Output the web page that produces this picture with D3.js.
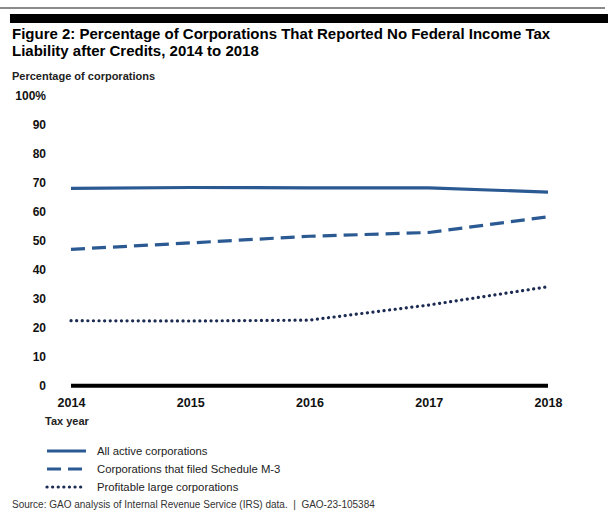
<!DOCTYPE html>
<html><head><meta charset="utf-8">
<script src="https://cdn.jsdelivr.net/npm/d3@7"></script>
<style>body{margin:0;background:#fff;} svg{display:block;font-family:"Liberation Sans",Arial,sans-serif;}</style>
</head><body>
<svg id="c" width="615" height="521"></svg>
<script>
const years = [2014, 2015, 2016, 2017, 2018];
const allActive = [68.0, 68.3, 68.2, 68.2, 66.7];
const scheduleM3 = [47.0, 49.2, 51.5, 52.8, 58.2];
const profitableLarge = [22.4, 22.3, 22.6, 27.8, 34.1];
const yTicks = [0, 10, 20, 30, 40, 50, 60, 70, 80, 90, 100];
const seriesNames = ["All active corporations", "Corporations that filed Schedule M-3", "Profitable large corporations"];

const series = [
  {name: seriesNames[0], values: allActive, color: "#2b5a93", dash: null, round: false},
  {name: seriesNames[1], values: scheduleM3, color: "#2b5a93", dash: "14,7", round: false},
  {name: seriesNames[2], values: profitableLarge, color: "#1c2b52", dash: "0.1,5.5", round: true}
];

const svg = d3.select("#c");
// top rules
svg.append("rect").attr("x",0).attr("y",7).attr("width",605).attr("height",2).attr("fill","#8a8a8a");
svg.append("rect").attr("x",10).attr("y",14).attr("width",598).attr("height",9).attr("fill","#000");

const title = svg.append("text").attr("font-size",15).attr("font-weight","bold").attr("fill","#000");
title.append("tspan").attr("x",12).attr("y",39).text("Figure 2: Percentage of Corporations That Reported No Federal Income Tax");
title.append("tspan").attr("x",12).attr("y",56).text("Liability after Credits, 2014 to 2018");

svg.append("text").attr("x",12).attr("y",80).attr("font-size",11).attr("font-weight","bold").attr("fill","#222").text("Percentage of corporations");

const x = d3.scalePoint().domain(years).range([71, 548]);
const y = d3.scaleLinear().domain([0, 100]).range([385.7, 95.5]);

// y tick labels
const yAxis = d3.axisLeft(y).tickValues(yTicks).tickSize(0).tickPadding(0)
  .tickFormat(d => d === 100 ? "100%" : d);
const gy = svg.append("g").attr("transform","translate(46,0)").call(yAxis);
gy.select(".domain").remove();
gy.selectAll("text").attr("font-size",12).attr("font-weight","bold").attr("fill","#111")
  .attr("font-family","Liberation Sans, Arial, sans-serif");

// x axis
const xAxis = d3.axisBottom(x).tickSize(0).tickPadding(0);
const gx = svg.append("g").attr("transform","translate(0,"+y(0)+")").call(xAxis);
gx.select(".domain").attr("stroke","#000").attr("stroke-width",4).attr("d","M71,0H548");
gx.selectAll("text").attr("font-size",12.5).attr("font-weight","bold").attr("fill","#111")
  .attr("dy",0).attr("y",21).attr("font-family","Liberation Sans, Arial, sans-serif");

svg.append("text").attr("x",45).attr("y",425).attr("font-size",11).attr("font-weight","bold").attr("fill","#222").text("Tax year");

// lines
const line = d3.line().x((d,i)=>x(years[i])).y(d=>y(d)).curve(d3.curveLinear);
series.forEach(s => {
  svg.append("path").attr("d", line(s.values)).attr("fill","none")
    .attr("stroke", s.color).attr("stroke-width",3.2)
    .attr("stroke-linecap", s.round ? "round" : "butt")
    .attr("stroke-linejoin","round")
    .attr("stroke-dasharray", s.dash);
});

// legend
const lg = svg.append("g");
series.forEach((s,i) => {
  const ly = 451 + i*18;
  lg.append("line").attr("x1",47).attr("x2",86).attr("y1",ly).attr("y2",ly)
    .attr("stroke", s.color).attr("stroke-width",3.2)
    .attr("stroke-linecap", s.round ? "round" : "butt")
    .attr("stroke-dasharray", s.dash);
  lg.append("text").attr("x",97).attr("y",ly+4).attr("font-size",11.3).attr("fill","#222").text(s.name);
});

svg.append("text").attr("x",12).attr("y",508).attr("font-size",10).attr("fill","#333")
  .attr("xml:space","preserve").style("white-space","pre")
  .text("Source: GAO analysis of Internal Revenue Service (IRS) data.  |  GAO-23-105384");
</script>
</body></html>
